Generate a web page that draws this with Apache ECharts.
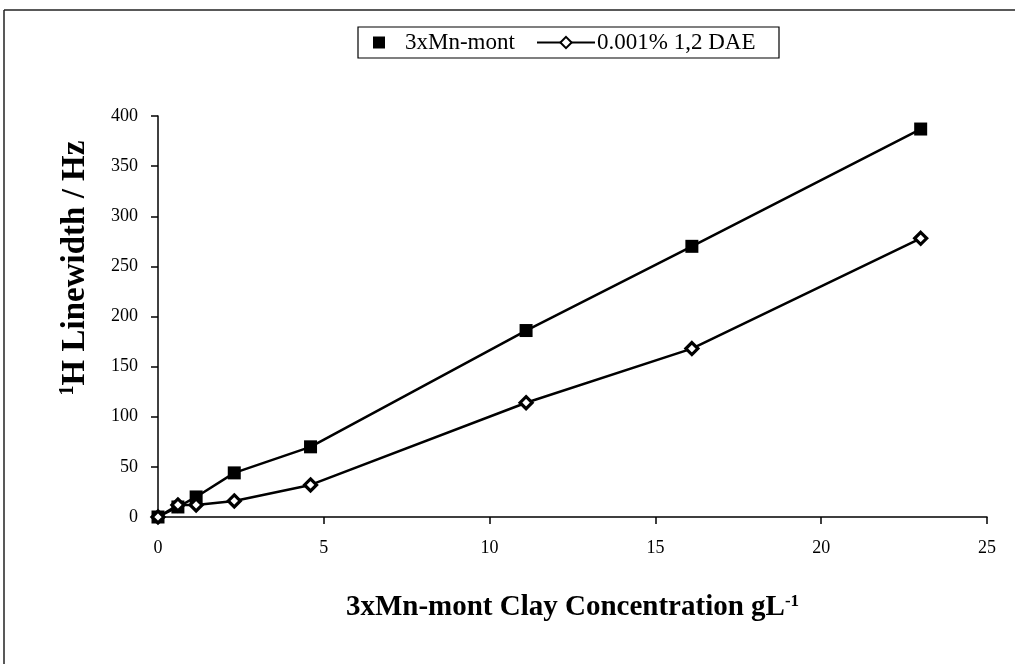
<!DOCTYPE html>
<html>
<head>
<meta charset="utf-8">
<script src="https://cdn.jsdelivr.net/npm/echarts@6/dist/echarts.min.js"></script>
<style>html,body{margin:0;padding:0;background:#fff;}#c{width:1015px;height:664px;}</style>
</head>
<body>
<div id="c"></div>
<script>
var concentration = [0, 0.6, 1.15, 2.3, 4.6, 11.1, 16.1, 23];
var mnMont = [0, 10, 20, 44, 70, 186, 270, 387];
var dae = [0, 12, 12, 16, 32, 114, 168, 278];
var seriesNames = ['3xMn-mont', '0.001% 1,2 DAE'];
var xTicks = [0, 5, 10, 15, 20, 25];
var yTicks = [0, 50, 100, 150, 200, 250, 300, 350, 400];

function pairs(xs, ys) { return xs.map(function (x, i) { return [x, ys[i]]; }); }

var FONT = '"Liberation Serif", "Times New Roman", serif';
var chart = echarts.init(document.getElementById('c'), null, { renderer: 'canvas' });
chart.setOption({
  animation: false,
  backgroundColor: '#fff',
  textStyle: { fontFamily: FONT, color: '#000' },
  grid: { left: 158, right: 28, top: 116, bottom: 147, containLabel: false },
  legend: [
    {
      data: [{ name: seriesNames[0], icon: 'path://M0,0L10,0L10,10L0,10Z' }],
      left: 373, top: 31, padding: 0, itemWidth: 42, itemHeight: 12, symbolKeepAspect: true,
      textStyle: { fontFamily: FONT, fontSize: 23, color: '#000' }, selectedMode: false
    },
    {
      data: [seriesNames[1]],
      left: 536, top: 31, padding: 0, itemWidth: 58, itemHeight: 14,
      textStyle: { fontFamily: FONT, fontSize: 23, color: '#000', padding: [0, 0, 0, -3] }, selectedMode: false
    }
  ],
  xAxis: {
    type: 'value', min: 0, max: 25, interval: 5,
    name: '{b|3xMn-mont Clay Concentration gL}{s|-1}',
    nameLocation: 'middle', nameGap: 76,
    nameTextStyle: {
      rich: {
        b: { fontFamily: FONT, fontSize: 29, fontWeight: 'bold', color: '#000' },
        s: { fontFamily: FONT, fontSize: 17, fontWeight: 'bold', color: '#000', verticalAlign: 'top', padding: [0, 0, 12, 0] }
      }
    },
    axisLine: { show: true, onZero: false, lineStyle: { color: '#000', width: 1.5 } },
    axisTick: { show: true, inside: false, length: 7, lineStyle: { color: '#000', width: 1.5 } },
    axisLabel: { fontFamily: FONT, fontSize: 18, color: '#000', margin: 22,
      formatter: function (v) { return xTicks.indexOf(v) >= 0 ? String(v) : ''; } },
    splitLine: { show: false }
  },
  yAxis: {
    type: 'value', min: 0, max: 400, interval: 50,
    axisLine: { show: true, lineStyle: { color: '#000', width: 1.5 } },
    axisTick: { show: true, inside: false, length: 7, lineStyle: { color: '#000', width: 1.5 } },
    axisLabel: { fontFamily: FONT, fontSize: 18, color: '#000', margin: 20,
      formatter: function (v) { return yTicks.indexOf(v) >= 0 ? String(v) : ''; } },
    splitLine: { show: false }
  },
  graphic: [
    { type: 'line', shape: { x1: 4, y1: 10, x2: 1015, y2: 10 }, style: { stroke: '#222', lineWidth: 1.5 }, silent: true },
    { type: 'line', shape: { x1: 4, y1: 10, x2: 4, y2: 664 }, style: { stroke: '#222', lineWidth: 1.5 }, silent: true },
    { type: 'rect', shape: { x: 358, y: 27, width: 421, height: 31 }, style: { fill: 'none', stroke: '#000', lineWidth: 1.2 }, silent: true, z: -1 },
    {
      type: 'text', x: 75, y: 268, rotation: Math.PI / 2, silent: true,
      style: {
        text: '{s|1}{b|H Linewidth / Hz}', align: 'center', verticalAlign: 'middle',
        rich: {
          b: { fontFamily: FONT, fontSize: 33, fontWeight: 'bold', fill: '#000' },
          s: { fontFamily: FONT, fontSize: 20, fontWeight: 'bold', fill: '#000', verticalAlign: 'top', padding: [0, 0, 14, 0] }
        }
      }
    }
  ],
  series: [
    {
      name: seriesNames[0], type: 'line', data: pairs(concentration, mnMont),
      symbol: 'rect', symbolSize: 13,
      lineStyle: { color: '#000', width: 2.5 },
      itemStyle: { color: '#000' }, z: 2
    },
    {
      name: seriesNames[1], type: 'line', data: pairs(concentration, dae),
      symbol: 'diamond', symbolSize: 12,
      lineStyle: { color: '#000', width: 2.5 },
      itemStyle: { color: '#fff', borderColor: '#000', borderWidth: 3.2 }, z: 3
    }
  ]
});
</script>
</body>
</html>
